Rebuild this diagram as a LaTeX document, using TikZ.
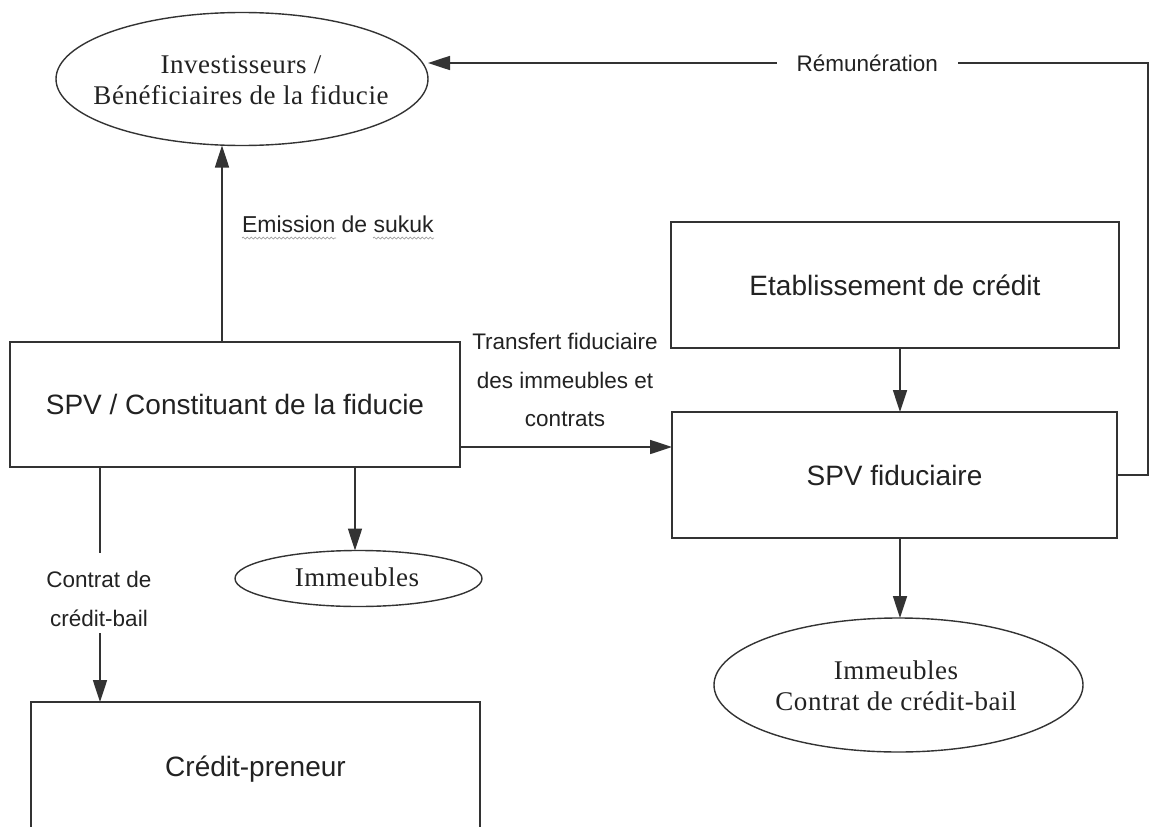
\documentclass[tikz,border=0pt]{standalone}
\usepackage{fontspec}
\setmainfont{Liberation Serif}
\newfontfamily\sansf{Liberation Sans}
\newfontfamily\seriff[LetterSpace=2]{Liberation Serif}
\usetikzlibrary{arrows.meta,shapes.geometric,decorations.pathmorphing,calc}
\definecolor{ink}{HTML}{333333}
\definecolor{txt}{HTML}{222222}
\begin{document}
\begin{tikzpicture}[x=1pt,y=-1pt,
  every node/.style={inner sep=0pt,outer sep=0pt},
  box/.style={draw=ink,line width=1.7pt,rectangle,
    font=\sansf\fontsize{28}{34}\selectfont,text=txt,
    text height=20pt,text depth=0pt},
  oval/.style={draw=ink,line width=1.4pt,ellipse},
  ovaltext/.style={font=\seriff\fontsize{27}{31}\selectfont,text=txt,align=center},
  lab/.style={font=\sansf\fontsize{22.5}{38.5}\selectfont,text=txt,align=center},
  conn/.style={draw=ink,line width=1.7pt},
  arr/.style={conn,-{Triangle[length=22pt,width=14pt]}},
  squig/.style={draw=gray!80,line width=0.7pt,decorate,
    decoration={snake,segment length=4pt,amplitude=1pt}}
]
\useasboundingbox (0,0) rectangle (1149,827);

% boxes
\node[box,minimum width=450pt,minimum height=125pt] (spv) at (235,404.5) {SPV / Constituant de la fiducie};
\node[box,minimum width=448pt,minimum height=126pt] (etab) at (895,285) {Etablissement de crédit};
\node[box,minimum width=445pt,minimum height=126pt] (fid) at (894.5,475) {SPV fiduciaire};
\node[box,minimum width=449pt,minimum height=128pt] (cp) at (255.5,766) {Crédit-preneur};

% ellipses
\node[oval,minimum width=372pt,minimum height=133pt] (inv) at (242,79) {};
\node[ovaltext] (invt) at (241,80) {Investisseurs /\\Bénéficiaires de la fiducie};
\node[oval,minimum width=247pt,minimum height=56pt] (imm) at (358.5,578.5) {};
\node[ovaltext] (immt) at (357,577) {Immeubles};
\node[oval,minimum width=369pt,minimum height=134pt] (ell) at (898.5,685) {};
\node[ovaltext] (ellt) at (896,686) {Immeubles\\Contrat de crédit-bail};

% helper coordinates
\coordinate (ax) at (222,0);
\coordinate (fx) at (900,0);
\coordinate (ty) at (0,447);
\coordinate (ix) at (355,0);
\coordinate (c1) at (100,553);
\coordinate (c2) at (100,633);
\coordinate (rc) at (1148,63);

% Emission de sukuk
\draw[arr] (spv.north -| ax) -- (inv.south -| ax);
\node[lab,anchor=base west,font=\sansf\fontsize{23}{38.5}\selectfont] (emis) at (242,232) {Emission de sukuk};
\draw[squig] ($(emis.base west)+(0,6)$) -- ($(emis.base west)+(94,6)$);
\draw[squig] ($(emis.base west)+(131,6)$) -- ($(emis.base west)+(192,6)$);

% Rémunération
\draw[arr] (fid.east) -- (fid.east -| rc) -- (rc) -- node[pos=0.39,lab,fill=white,inner xsep=20pt,inner ysep=4pt] (rem) {Rémunération} (inv.east |- rc);

% Etablissement -> SPV fiduciaire -> ellipse
\draw[arr] (etab.south -| fx) -- (fid.north -| fx);
\draw[arr] (fid.south -| fx) -- (ell.north -| fx);

% transfert
\draw[arr] (spv.east |- ty) -- (fid.west |- ty);
\node[lab] (trans) at (565,380) {Transfert fiduciaire\\des immeubles et\\contrats};

% SPV -> Immeubles
\draw[arr] (spv.south -| ix) -- (imm.north -| ix);

% contrat de crédit-bail
\draw[conn] (spv.south -| c1) -- (c1);
\node[lab] (cb) at (99,599) {Contrat de\\crédit-bail};
\draw[arr] (c2) -- (cp.north -| c2);
\end{tikzpicture}
\end{document}
